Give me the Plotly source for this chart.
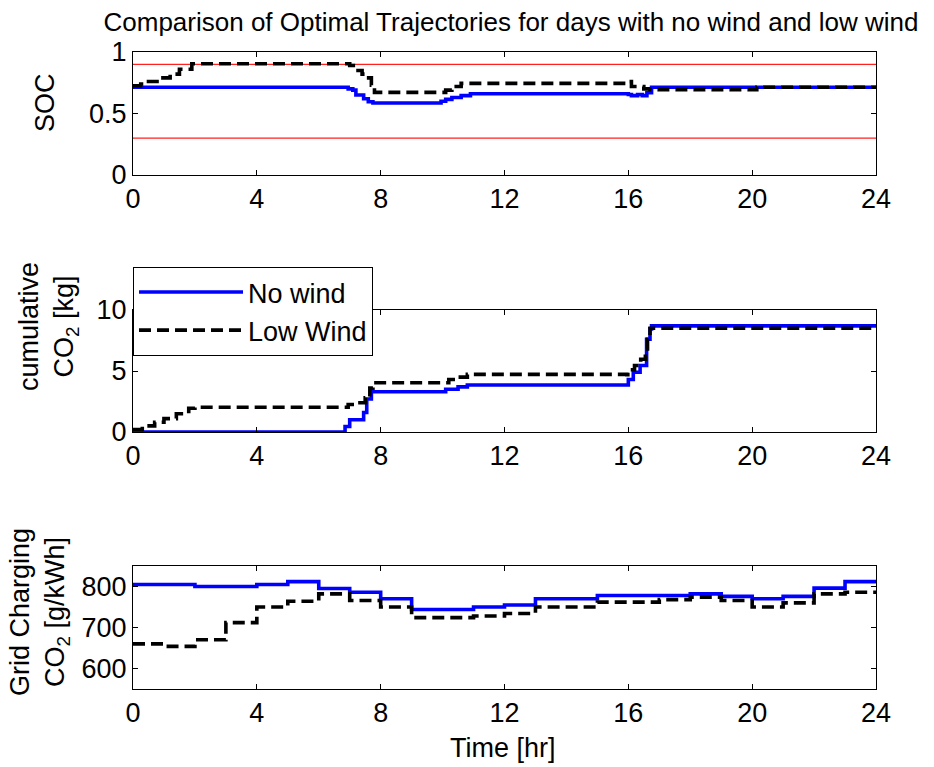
import plotly.graph_objects as go

# ---------------- data ----------------
hours = [0, 4, 8, 12, 16, 20, 24]

# SOC trajectories (breakpoints, step shape)
soc_nowind_t = [0, 6.95, 7.1, 7.2, 7.45, 7.6, 7.75, 9.95, 10.1, 10.3, 10.6, 10.9, 16.0, 16.1, 16.3, 16.45, 16.6, 16.75, 24]
soc_nowind_v = [0.713, 0.70, 0.69, 0.65, 0.62, 0.595, 0.585, 0.60, 0.615, 0.63, 0.645, 0.66, 0.655, 0.645, 0.655, 0.645, 0.67, 0.713, 0.713]

soc_lowwind_t = [0, 0.25, 0.5, 0.9, 1.2, 1.5, 1.9, 6.9, 7.0, 7.2, 7.4, 7.55, 7.7, 7.8, 9.95, 10.1, 10.3, 10.6, 15.95, 16.1, 16.5, 16.7, 20.15, 24]
soc_lowwind_v = [0.726, 0.74, 0.76, 0.79, 0.82, 0.86, 0.905, 0.905, 0.89, 0.85, 0.82, 0.79, 0.73, 0.672, 0.672, 0.69, 0.72, 0.745, 0.76, 0.72, 0.70, 0.694, 0.713, 0.713]

soc_max = 0.9
soc_min = 0.3

# cumulative CO2 [kg]
cum_nowind_t = [0, 6.85, 7.0, 7.45, 7.55, 7.7, 9.95, 10.1, 10.5, 10.8, 15.95, 16.0, 16.16, 16.38, 16.59, 16.7, 16.75, 24]
cum_nowind_v = [0, 0.45, 1.0, 1.6, 2.7, 3.3, 3.3, 3.5, 3.7, 3.85, 3.85, 4.3, 4.9, 5.45, 7.6, 8.45, 8.7, 8.7]

cum_lowwind_t = [0, 0.3, 0.7, 1.0, 1.4, 1.8, 2.0, 6.85, 6.95, 7.2, 7.5, 7.65, 7.75, 10.05, 10.2, 10.5, 10.8, 15.95, 16.05, 16.2, 16.4, 16.55, 16.62, 16.7, 24]
cum_lowwind_v = [0.2, 0.5, 0.8, 1.1, 1.5, 1.95, 2.03, 2.03, 2.25, 2.4, 2.8, 3.6, 4.04, 4.04, 4.3, 4.5, 4.72, 4.7, 5.1, 5.45, 5.96, 6.8, 7.6, 8.5, 8.5]

# grid charging CO2 intensity [g/kWh], hourly
grid_hours = list(range(25))
grid_nowind = [805, 805, 800, 800, 805, 812, 795, 786, 770, 744, 744, 750, 755, 770, 770,
               778, 778, 778, 782, 776, 770, 776, 796, 812, 812]
grid_lowwind = [660, 654, 670, 712, 750, 764, 782, 766, 750, 724, 724, 728, 734, 750, 750,
                762, 762, 768, 774, 766, 750, 760, 782, 786, 786]

# ---------------- figure ----------------
FONT = "Arial, Liberation Sans, Helvetica, sans-serif"
BLUE = "#0000ff"
BLACK = "#000000"
LW = 3.6
DASH = "12px,6px"
FS = 27

fig = go.Figure()

# SOC
fig.add_trace(go.Scatter(x=[0, 24], y=[soc_max, soc_max], mode="lines", line=dict(color="#ff2020", width=1.2),
                         showlegend=False, hoverinfo="skip", xaxis="x", yaxis="y"))
fig.add_trace(go.Scatter(x=[0, 24], y=[soc_min, soc_min], mode="lines", line=dict(color="#ff2020", width=1.2),
                         showlegend=False, hoverinfo="skip", xaxis="x", yaxis="y"))
fig.add_trace(go.Scatter(x=soc_nowind_t, y=soc_nowind_v, mode="lines", line=dict(color=BLUE, width=LW, shape="hv"),
                         showlegend=False, xaxis="x", yaxis="y"))
fig.add_trace(go.Scatter(x=soc_lowwind_t, y=soc_lowwind_v, mode="lines",
                         line=dict(color=BLACK, width=LW, shape="hv", dash=DASH),
                         showlegend=False, xaxis="x", yaxis="y"))

# cumulative CO2
fig.add_trace(go.Scatter(x=cum_nowind_t, y=cum_nowind_v, mode="lines", name="No wind",
                         line=dict(color=BLUE, width=LW, shape="hv"), xaxis="x2", yaxis="y2"))
fig.add_trace(go.Scatter(x=cum_lowwind_t, y=cum_lowwind_v, mode="lines", name="Low Wind",
                         line=dict(color=BLACK, width=LW, shape="hv", dash=DASH), xaxis="x2", yaxis="y2"))

# grid CO2
fig.add_trace(go.Scatter(x=grid_hours, y=grid_nowind, mode="lines", line=dict(color=BLUE, width=LW, shape="hv"),
                         showlegend=False, xaxis="x3", yaxis="y3"))
fig.add_trace(go.Scatter(x=grid_hours, y=grid_lowwind, mode="lines",
                         line=dict(color=BLACK, width=LW, shape="hv", dash=DASH),
                         showlegend=False, xaxis="x3", yaxis="y3"))

W, H = 934, 767
L, R, T, B = 133, 58, 52, 78
PH = H - T - B  # 637


def py(ypix):
    return (H - B - ypix) / PH


def px(xpix):
    return (xpix - L) / (W - L - R)


axis_common = dict(showline=True, linecolor="black", linewidth=1, mirror="allticks",
                   ticks="inside", ticklen=5, tickcolor="black", showgrid=False, zeroline=False,
                   tickfont=dict(size=FS, color="black", family=FONT))

xcommon = dict(axis_common, range=[0, 24], tickvals=hours, ticktext=[str(h) for h in hours])

fig.update_layout(
    width=W, height=H,
    margin=dict(l=L, r=R, t=T, b=B),
    paper_bgcolor="white", plot_bgcolor="white",
    font=dict(family=FONT, size=FS, color="black"),
    title=dict(text="Comparison of Optimal Trajectories for days with no wind and low wind",
               x=511 / W, xref="container", xanchor="center",
               y=1 - 22 / H, yref="container", yanchor="middle",
               font=dict(size=26, family=FONT, color="black")),
    xaxis=dict(xcommon, anchor="y", domain=[0, 1]),
    yaxis=dict(axis_common, anchor="x", domain=[py(175), py(52)], range=[0, 1],
               tickvals=[0, 0.5, 1], ticktext=["0", "0.5", "1"]),
    xaxis2=dict(xcommon, anchor="y2", domain=[0, 1]),
    yaxis2=dict(axis_common, anchor="x2", domain=[py(432), py(310)], range=[0, 10],
                tickvals=[0, 5, 10]),
    xaxis3=dict(xcommon, anchor="y3", domain=[0, 1]),
    yaxis3=dict(axis_common, anchor="x3", domain=[py(689), py(566)], range=[550, 850],
                tickvals=[600, 700, 800]),
    legend=dict(x=0, y=py(267), xanchor="left", yanchor="top", xref="paper", yref="paper",
                bgcolor="white", bordercolor="black", borderwidth=1,
                font=dict(size=FS, family=FONT, color="black"), itemwidth=104,
                tracegroupgap=0),
    showlegend=True,
)

annots = [
    dict(text="SOC", x=px(45), y=py(103), textangle=-90),
    dict(text="cumulative<br>CO<sub>2</sub> [kg]", x=px(48), y=py(327), textangle=-90),
    dict(text="Grid Charging<br>CO<sub>2</sub> [g/kWh]", x=px(39), y=py(612), textangle=-90),
    dict(text="Time [hr]", x=px(503), y=py(748), textangle=0),
]
for a in annots:
    fig.add_annotation(xref="paper", yref="paper", xanchor="center", yanchor="middle",
                       showarrow=False, font=dict(size=FS, family=FONT, color="black"), **a)

fig.write_html("out.html")
